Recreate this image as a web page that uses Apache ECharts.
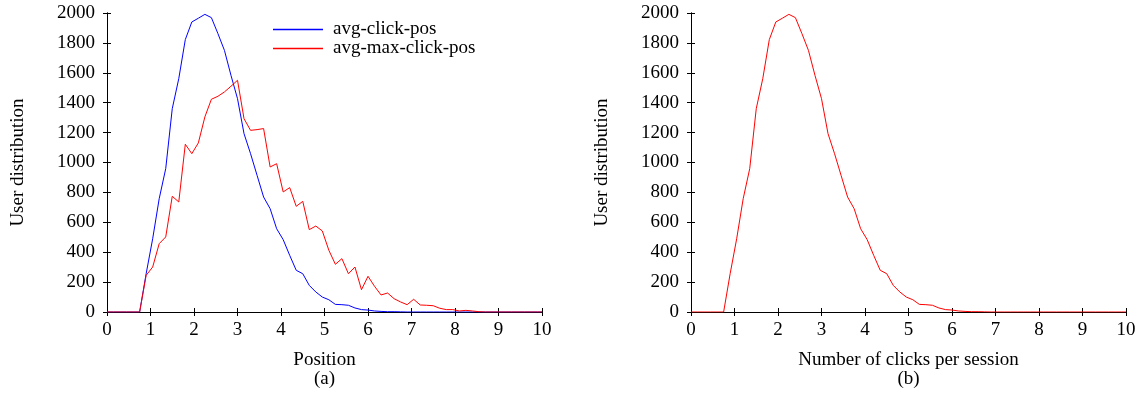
<!DOCTYPE html>
<html>
<head>
<meta charset="utf-8">
<script src="https://cdn.jsdelivr.net/npm/echarts@6/dist/echarts.min.js"></script>
<style>
  html, body { margin: 0; padding: 0; background: #fff; }
  #chart { width: 1145px; height: 394px; }
</style>
</head>
<body>
<div id="chart"></div>
<script>
// x positions shared by all curves
const positions = [0, 0.15, 0.3, 0.45, 0.6, 0.75, 0.9, 1.05, 1.2, 1.35, 1.5, 1.65, 1.8, 1.95, 2.1, 2.25, 2.4, 2.55, 2.7, 2.85,
  3, 3.15, 3.3, 3.45, 3.6, 3.75, 3.9, 4.05, 4.2, 4.35, 4.5, 4.65, 4.8, 4.95, 5.1, 5.25, 5.4, 5.55, 5.7, 5.85,
  6, 6.15, 6.3, 6.45, 6.6, 6.75, 6.9, 7.05, 7.2, 7.35, 7.5, 7.65, 7.8, 7.95, 8.1, 8.25, 8.4, 8.55, 8.7, 8.85,
  9, 9.15, 9.3, 9.45, 9.6, 9.75, 9.9, 10];

const avgClickPos = [0, 0, 0, 0, 0, 0, 256, 490, 758, 959, 1360, 1561, 1822, 1940, 1965, 1991, 1969, 1862, 1750, 1583,
  1427, 1193, 1059, 914, 769, 691, 557, 484, 379, 279, 256, 178, 134, 100, 82, 51, 49, 45, 27, 16,
  13, 7, 4, 2, 2, 1, 0, 0, 0, 0, 0, 0, 0, 0, 0, 0, 0, 0, 0, 0,
  0, 0, 0, 0, 0, 0, 0, 0];

const avgMaxClickPos = [0, 0, 0, 0, 0, 0, 245, 301, 457, 502, 774, 736, 1122, 1059, 1131, 1305, 1423, 1443, 1472, 1510,
  1550, 1293, 1215, 1220, 1227, 970, 992, 803, 832, 707, 740, 551, 575, 542, 413, 319, 357, 256, 301, 149,
  239, 172, 114, 127, 89, 67, 49, 85, 47, 45, 42, 25, 16, 16, 7, 11, 7, 2, 0, 0,
  0, 0, 0, 0, 0, 0, 0, 0];

const clicksPerSession = [0, 0, 0, 0, 0, 0, 256, 490, 758, 959, 1360, 1561, 1822, 1940, 1965, 1991, 1969, 1862, 1750, 1583,
  1427, 1193, 1059, 914, 769, 691, 557, 484, 379, 279, 256, 178, 134, 100, 82, 51, 49, 45, 27, 16,
  13, 7, 4, 2, 2, 1, 0, 0, 0, 0, 0, 0, 0, 0, 0, 0, 0, 0, 0, 0,
  0, 0, 0, 0, 0, 0, 0, 0];

const xTitles = ['Position\n(a)', 'Number of clicks per session\n(b)'];
const yTitle = 'User distribution';

const font = 'Liberation Serif';
const fontSize = 19;
const pairs = (ys) => positions.map((x, i) => [x, ys[i]]);

const xAxisFor = (gridIndex, name) => ([
  {
    type: 'value', gridIndex, min: 0, max: 10, interval: 1, position: 'bottom',
    name, nameLocation: 'middle', nameGap: 39,
    nameTextStyle: { fontFamily: font, fontSize, color: '#000', lineHeight: 19, align: 'center' },
    axisLine: { show: true, lineStyle: { color: '#000', width: 1 } },
    axisTick: { show: true, inside: true, length: 4, lineStyle: { color: '#000' } },
    axisLabel: { fontFamily: font, fontSize, color: '#000', margin: 9 },
    splitLine: { show: false }
  },
  {
    type: 'value', gridIndex, min: 0, max: 10, interval: 1, position: 'top',
    axisLine: { show: true, lineStyle: { color: '#000', width: 1 } },
    axisTick: { show: true, inside: true, length: 4, lineStyle: { color: '#000' } },
    axisLabel: { show: false },
    splitLine: { show: false }
  }
]);

const yAxisFor = (gridIndex) => ([
  {
    type: 'value', gridIndex, min: 0, max: 2000, interval: 200, position: 'left',
    name: yTitle, nameLocation: 'middle', nameGap: 79,
    nameTextStyle: { fontFamily: font, fontSize, color: '#000' },
    axisLine: { show: true, lineStyle: { color: '#000', width: 1 } },
    axisTick: { show: true, inside: true, length: 4, lineStyle: { color: '#000' } },
    axisLabel: { fontFamily: font, fontSize, color: '#000', margin: 12, formatter: (v) => String(v) },
    splitLine: { show: false }
  },
  {
    type: 'value', gridIndex, min: 0, max: 2000, interval: 200, position: 'right',
    axisLine: { show: true, lineStyle: { color: '#000', width: 1 } },
    axisTick: { show: true, inside: true, length: 4, lineStyle: { color: '#000' } },
    axisLabel: { show: false },
    splitLine: { show: false }
  }
]);

const chart = echarts.init(document.getElementById('chart'), null, { renderer: 'canvas' });

const option = {
  backgroundColor: '#fff',
  animation: false,
  grid: [
    { left: 107, right: 603, top: 13, bottom: 82 },
    { left: 691, right: 19, top: 13, bottom: 82 }
  ],
  legend: {
    orient: 'vertical',
    left: 273,
    top: 20,
    padding: 0,
    itemWidth: 50,
    itemHeight: 1.5,
    itemGap: 0,
    icon: 'rect',
    data: ['avg-click-pos', 'avg-max-click-pos'],
    textStyle: { fontFamily: font, fontSize, color: '#000', padding: [0, 0, 0, 5] }
  },
  xAxis: [...xAxisFor(0, xTitles[0]), ...xAxisFor(1, xTitles[1])],
  yAxis: [...yAxisFor(0), ...yAxisFor(1)],
  series: [
    {
      name: 'avg-click-pos', type: 'line', xAxisIndex: 0, yAxisIndex: 0,
      data: pairs(avgClickPos), symbol: 'none',
      lineStyle: { color: '#0000ff', width: 1 }, itemStyle: { color: '#0000ff' }
    },
    {
      name: 'avg-max-click-pos', type: 'line', xAxisIndex: 0, yAxisIndex: 0,
      data: pairs(avgMaxClickPos), symbol: 'none',
      lineStyle: { color: '#ff0000', width: 1 }, itemStyle: { color: '#ff0000' }
    },
    {
      name: 'clicks-per-session', type: 'line', xAxisIndex: 2, yAxisIndex: 2,
      data: pairs(clicksPerSession), symbol: 'none',
      lineStyle: { color: '#ff0000', width: 1 }, itemStyle: { color: '#ff0000' }
    }
  ]
};

chart.setOption(option);
</script>
</body>
</html>
